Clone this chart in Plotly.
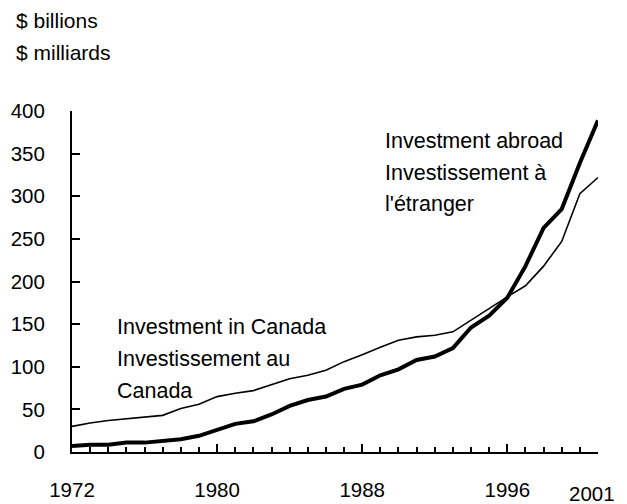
import plotly.graph_objects as go

years = list(range(1972, 2002))
investment_in_canada = [30, 34, 37, 39, 41, 43, 51, 56, 65, 69, 72, 79, 86, 90, 96,
                        106, 114, 123, 131, 135, 137, 141, 155, 169, 182, 195, 218, 247, 303, 322]
investment_abroad = [7, 8.5, 8.5, 11, 11, 13, 15, 19, 26, 33, 36, 44, 54, 61, 65,
                     74, 79, 90, 97, 108, 112, 122, 146, 160, 181, 218, 263, 285, 339, 389]
x_tick_vals = [1972, 1980, 1988, 1996]
x_tick_text = ["1972", "1980", "1988", "1996"]
last_year_label = "2001"

FONT = "Liberation Sans, Arial, sans-serif"
# the page body places the figure 8px from the top-left corner
OFF = 8
W, H = 627, 504
L, T = 72 - OFF, 111 - OFF
R, B = W - (598 - OFF), H - (452.5 - OFF)
PW, PH = W - L - R, H - T - B

fig = go.Figure()
fig.add_trace(go.Scatter(x=years, y=investment_in_canada, mode="lines",
                         line=dict(color="black", width=1.6), name="Investment in Canada",
                         showlegend=False))
fig.add_trace(go.Scatter(x=years, y=investment_abroad, mode="lines",
                         line=dict(color="black", width=4), name="Investment abroad",
                         showlegend=False))

def py(pix):
    return (H - B - (pix - OFF)) / PH

def px(pix):
    return ((pix - OFF) - L) / PW

anns = [
    ("$ billions", 14, 20, 21),
    ("$ milliards", 14, 52, 21),
    ("Investment abroad", 383, 141, 21.5),
    ("Investissement à", 383, 173, 21.5),
    ("l'étranger", 383, 204, 21.5),
    ("Investment in Canada", 115, 327, 21.5),
    ("Investissement au", 115, 359.5, 21.5),
    ("Canada", 115, 391, 21.5),
]
for text, x, y, s in anns:
    fig.add_annotation(text=text, xref="paper", yref="paper", x=px(x), y=py(y),
                       xanchor="left", yanchor="middle", showarrow=False,
                       font=dict(family=FONT, size=s, color="black"))
fig.add_annotation(text=last_year_label, xref="paper", yref="paper", x=px(592), y=py(494),
                   xanchor="center", yanchor="middle", showarrow=False,
                   font=dict(family=FONT, size=20.5, color="black"))

fig.update_layout(
    width=W, height=H,
    margin=dict(l=L, r=R, t=T, b=B, pad=0, autoexpand=False),
    paper_bgcolor="white", plot_bgcolor="white",
    font=dict(family=FONT, size=20.5, color="black"),
    xaxis=dict(range=[1972, 2001], tickvals=x_tick_vals, ticktext=x_tick_text,
               ticks="inside", ticklen=8, tickwidth=1.5, tickcolor="black",
               showline=True, linecolor="black", linewidth=2, showgrid=False,
               zeroline=False, ticklabelstandoff=18, automargin=False,
               minor=dict(ticks="inside", ticklen=5, tickwidth=1.5, tickcolor="black",
                          dtick=1, tick0=1972, showgrid=False)),
    yaxis=dict(range=[0, 400], dtick=50, tick0=0, ticks="inside", ticklen=8,
               tickwidth=1.5, tickcolor="black", showline=True, linecolor="black",
               linewidth=2, showgrid=False, zeroline=False, ticklabelstandoff=21,
               automargin=False),
)

fig.write_html("out.html")
